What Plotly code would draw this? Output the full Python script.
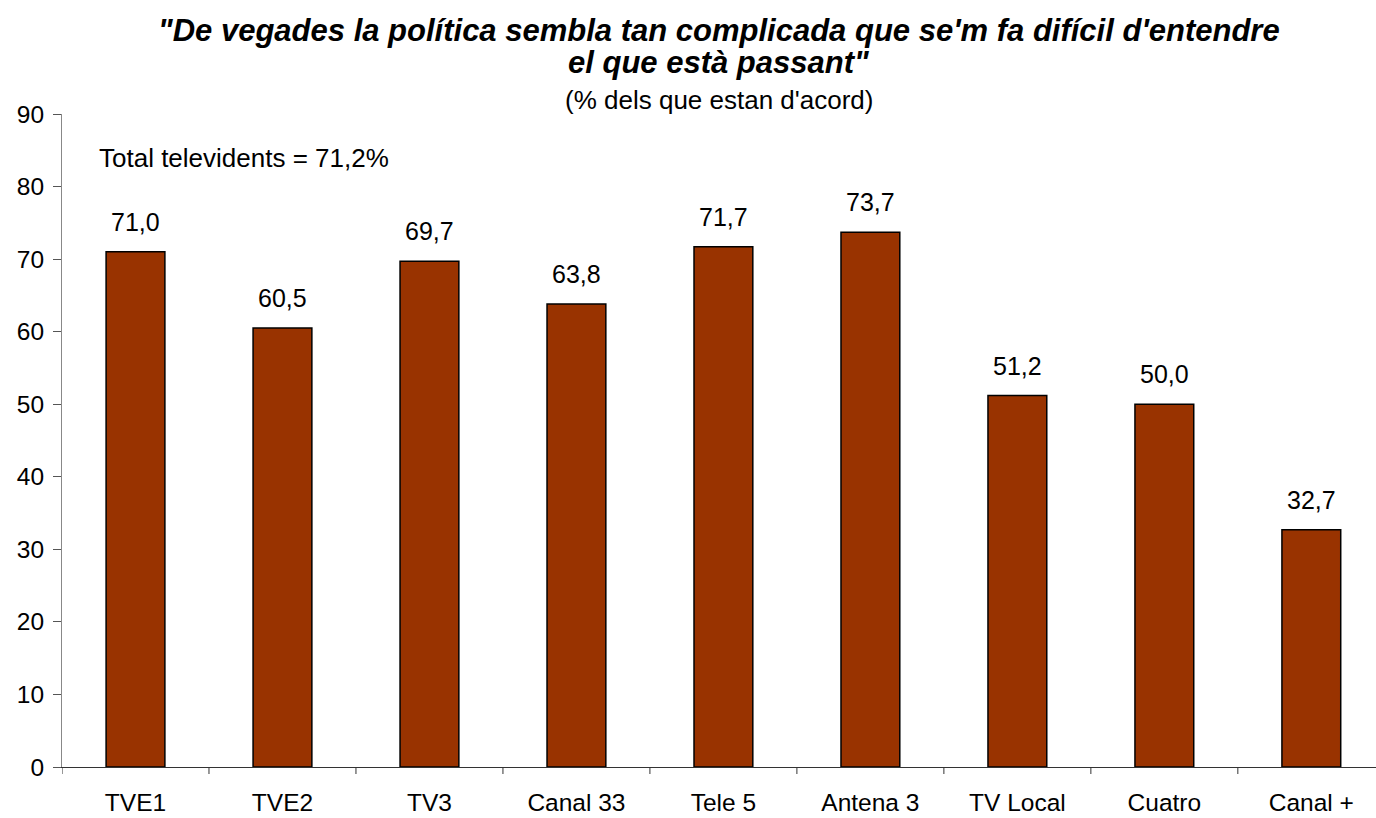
import plotly.graph_objects as go

categories = ["TVE1", "TVE2", "TV3", "Canal 33", "Tele 5", "Antena 3", "TV Local", "Cuatro", "Canal +"]
values = [71.0, 60.5, 69.7, 63.8, 71.7, 73.7, 51.2, 50.0, 32.7]
y_ticks = [0, 10, 20, 30, 40, 50, 60, 70, 80, 90]

FONT = "Liberation Sans, Arial, sans-serif"
labels = [f"{v:.1f}".replace(".", ",") for v in values]

W, H = 1376, 818
L, R, T, B = 62, 0, 114, 51
plot_h = H - T - B

fig = go.Figure()
fig.add_trace(go.Bar(
    x=list(range(len(categories))), y=values,
    marker=dict(color="#993300", line=dict(color="black", width=1.5)),
    width=0.4, hoverinfo="skip",
))
for i, (v, t) in enumerate(zip(values, labels)):
    fig.add_annotation(x=i, y=v, text=t, showarrow=False, yshift=30,
                       font=dict(family=FONT, size=25, color="black"))

fig.add_annotation(x=35 / (W - L - R), xref="paper", y=84.0, yref="y", xanchor="left",
                   text="Total televidents = 71,2%", showarrow=False,
                   font=dict(family=FONT, size=26, color="black"))

fig.add_annotation(xref="paper", yref="paper", x=0.5, y=1, yshift=84, xanchor="center", yanchor="middle",
                   text="<b><i>\"De vegades la política sembla tan complicada que se'm fa difícil d'entendre</i></b>",
                   showarrow=False, font=dict(family=FONT, size=31, color="black"))
fig.add_annotation(xref="paper", yref="paper", x=0.5, y=1, yshift=52, xanchor="center", yanchor="middle",
                   text="<b><i>el que està passant\"</i></b>",
                   showarrow=False, font=dict(family=FONT, size=31, color="black"))
fig.add_annotation(xref="paper", yref="paper", x=0.5, y=1, yshift=14, xanchor="center", yanchor="middle",
                   text="(% dels que estan d'acord)",
                   showarrow=False, font=dict(family=FONT, size=26, color="black"))

fig.update_layout(
    width=W, height=H,
    margin=dict(l=L, r=R, t=T, b=B, pad=0, autoexpand=False),
    plot_bgcolor="white", paper_bgcolor="white",
    showlegend=False,
    font=dict(family=FONT, size=25, color="black"),
)
fig.update_xaxes(
    range=[-0.5, 8.44], tickmode="array", tickvals=list(range(len(categories))),
    ticktext=categories, showgrid=False, showline=True, linecolor="#333333", linewidth=1,
    ticks="", ticklabelstandoff=14, zeroline=False, automargin=False,
    tickfont=dict(family=FONT, size=24.5),
)
for i in range(len(categories)):
    fig.add_shape(type="line", xref="x", yref="paper", x0=i - 0.5, x1=i - 0.5, y0=0, y1=-7 / plot_h,
                  line=dict(color="#333333", width=1))
fig.update_yaxes(
    range=[0, 90], tickmode="array", tickvals=y_ticks, showgrid=False,
    showline=True, linecolor="#888888", linewidth=1, ticks="outside", ticklen=8,
    tickcolor="#555555", ticklabelstandoff=4, zeroline=False, automargin=False,
    tickfont=dict(family=FONT, size=24.5),
)
fig.write_html("out.html", config={"displayModeBar": False},
               post_script="document.body.style.margin='0';document.body.style.overflow='hidden';")
